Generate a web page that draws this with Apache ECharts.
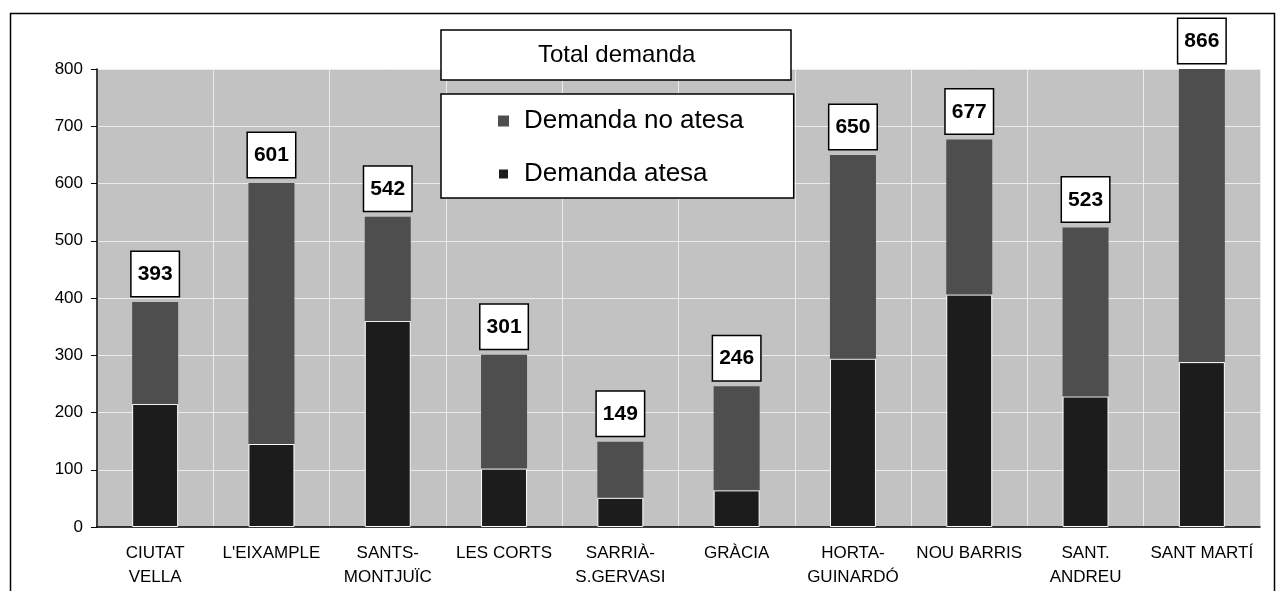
<!DOCTYPE html>
<html>
<head>
<meta charset="utf-8">
<script src="https://cdn.jsdelivr.net/npm/echarts@6/dist/echarts.min.js"></script>
<style>
  html, body { margin: 0; padding: 0; background: #fff; }
  #chart { width: 1279px; height: 591px; }
</style>
</head>
<body>
<div id="chart"></div>
<script>
// districtes
const districts = ['CIUTAT\nVELLA', "L'EIXAMPLE", 'SANTS-\nMONTJUÏC', 'LES CORTS', 'SARRIÀ-\nS.GERVASI',
  'GRÀCIA', 'HORTA-\nGUINARDÓ', 'NOU BARRIS', 'SANT.\nANDREU', 'SANT MARTÍ'];
const demandaAtesa = [215, 145, 360, 102, 51, 64, 294, 406, 228, 288];
const demandaNoAtesa = [178, 456, 182, 199, 98, 182, 356, 271, 295, 578];
const totalDemanda = [393, 601, 542, 301, 149, 246, 650, 677, 523, 866];

const FONT = '"Liberation Sans", Arial, sans-serif';

const chart = echarts.init(document.getElementById('chart'));

const option = {
  animation: false,
  textStyle: { fontFamily: FONT },
  title: {
    text: 'Total demanda',
    left: 441,
    top: 30,
    padding: [13, 96, 13, 97],
    backgroundColor: '#fff',
    borderColor: '#000',
    borderWidth: 1.5,
    textStyle: { fontFamily: FONT, fontSize: 24, fontWeight: 'normal', color: '#000' },
  },
  legend: {
    data: ['Demanda no atesa', 'Demanda atesa'],
    orient: 'vertical',
    left: 441,
    top: 94,
    padding: [14, 50, 11, 56],
    itemGap: 27,
    itemWidth: 11,
    itemHeight: 11,
    icon: 'rect',
    backgroundColor: '#fff',
    borderColor: '#000',
    borderWidth: 1.5,
    textStyle: { fontFamily: FONT, fontSize: 26, color: '#000', padding: [0, 0, 0, 10] },
  },
  grid: {
    left: 97,
    right: 19,
    top: 69,
    bottom: 64,
    show: true,
    backgroundColor: '#c2c2c2',
    borderWidth: 0,
  },
  xAxis: {
    type: 'category',
    data: districts,
    axisLine: { lineStyle: { color: '#000', width: 1.5 } },
    axisTick: { length: 5, lineStyle: { color: '#000' } },
    splitLine: { show: true, lineStyle: { color: '#ececec', width: 1 } },
    axisLabel: {
      color: '#000',
      fontFamily: FONT,
      fontSize: 17,
      lineHeight: 24,
      margin: 14,
      interval: 0,
    },
  },
  yAxis: {
    type: 'value',
    min: 0,
    max: 800,
    interval: 100,
    axisLine: { show: true, lineStyle: { color: '#000', width: 1.5 } },
    axisTick: { show: true, length: 6, lineStyle: { color: '#000' } },
    splitLine: { show: true, lineStyle: { color: '#ececec', width: 1 } },
    axisLabel: { color: '#000', fontFamily: FONT, fontSize: 17, margin: 14 },
  },
  series: [
    {
      name: 'Demanda atesa',
      type: 'bar',
      stack: 'demanda',
      barWidth: 46,
      data: demandaAtesa,
      itemStyle: { color: '#1c1c1c', borderColor: '#fff', borderWidth: 1 },
    },
    {
      name: 'Demanda no atesa',
      type: 'bar',
      stack: 'demanda',
      barWidth: 46,
      data: demandaNoAtesa,
      itemStyle: { color: '#4e4e4e' },
      label: {
        show: true,
        position: 'top',
        distance: 6,
        formatter: (p) => String(totalDemanda[p.dataIndex]),
        fontFamily: FONT,
        fontSize: 21,
        fontWeight: 'bold',
        color: '#000',
        backgroundColor: '#fff',
        borderColor: '#000',
        borderWidth: 1.5,
        padding: [12, 6, 11, 6],
      },
    },
  ],
  graphic: [
    {
      type: 'rect',
      left: 8,
      top: 11,
      shape: { width: 1264, height: 600 },
      style: { fill: 'none', stroke: '#000', lineWidth: 1.5 },
      silent: true,
      z: -10,
    },
  ],
};

chart.setOption(option);
</script>
</body>
</html>
